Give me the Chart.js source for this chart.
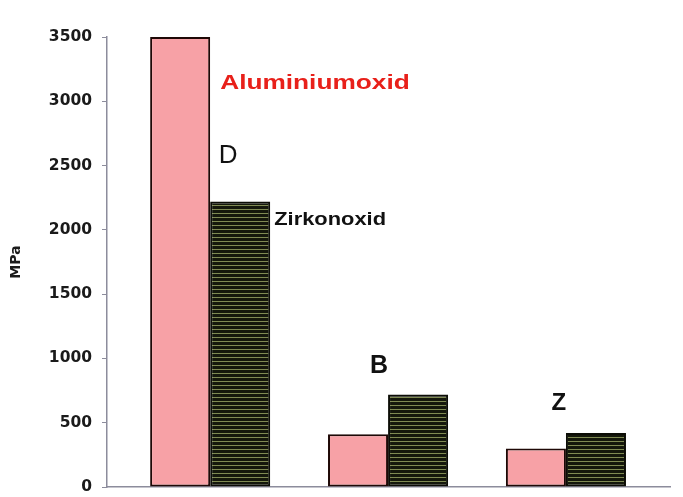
<!DOCTYPE html>
<html>
<head>
<meta charset="utf-8">
<script src="https://cdn.jsdelivr.net/npm/chart.js@4.4.1/dist/chart.umd.min.js"></script>
<style>
  html, body { margin: 0; padding: 0; background: #fff; }
  #wrap { width: 683px; height: 497px; }
</style>
</head>
<body>
<div id="wrap"><canvas id="myChart"></canvas></div>
<script>
// values
const categories = ['D', 'B', 'Z'];
const seriesNames = ['Aluminiumoxid', 'Zirkonoxid'];
const aluminiumoxid = [3500, 410, 300];
const zirkonoxid = [2220, 720, 420];
const yTicks = [0, 500, 1000, 1500, 2000, 2500, 3000, 3500];

// striped fill for the dark bars
function stripePattern() {
  const c = document.createElement('canvas');
  c.width = 4; c.height = 4;
  const g = c.getContext('2d');
  g.fillStyle = '#14170b';
  g.fillRect(0, 0, 4, 4);
  g.fillStyle = '#7f8a52';
  g.fillRect(0, 1, 4, 1);
  return g.createPattern(c, 'repeat');
}

// series names + category letters written next to the bars
const annotations = {
  id: 'annotations',
  afterDatasetsDraw(chart, args, opts) {
    const ctx = chart.ctx;
    const pink = chart.getDatasetMeta(0).data;
    const dark = chart.getDatasetMeta(1).data;
    function txt(s, x, y, font, color, align, stretch) {
      ctx.save();
      ctx.font = font;
      ctx.fillStyle = color;
      ctx.textBaseline = 'middle';
      const w = ctx.measureText(s).width * stretch;
      let left = align === 'center' ? x - w / 2 : x;
      ctx.translate(left, y);
      ctx.scale(stretch, 1);
      ctx.textAlign = 'left';
      ctx.fillText(s, 0, 0);
      ctx.restore();
    }
    // series names beside the first group
    const p0 = pink[0], d0 = dark[0];
    txt(seriesNames[0], p0.x + p0.width / 2 + 10, p0.y + 46,
        'bold 21px "Liberation Sans", Arial, sans-serif', '#e8201a', 'left', 1.25);
    txt(seriesNames[1], d0.x + d0.width / 2 + 4, d0.y + 19,
        'bold 17.5px "Liberation Sans", Arial, sans-serif', '#111', 'left', 1.25);
    // category letters
    opts.letterOffsets.forEach((o, i) => {
      const b = dark[i];
      const cx = (pink[i].x + dark[i].x) / 2;
      txt(categories[i], cx + o[0], b.y + o[1], o[2], '#111', 'center', 1.0);
    });
  }
};

const ctx = document.getElementById('myChart');

new Chart(ctx, {
  type: 'bar',
  data: {
    datasets: [
      {
        label: seriesNames[0],
        data: aluminiumoxid.map((v, i) => ({ x: i, y: v })),
        backgroundColor: '#f7a1a6',
        borderColor: '#1e0806',
        borderWidth: 2,
        borderSkipped: false
      },
      {
        label: seriesNames[1],
        data: zirkonoxid.map((v, i) => ({ x: i, y: v })),
        backgroundColor: stripePattern(),
        borderColor: '#0c0d06',
        borderWidth: 2,
        borderSkipped: false
      }
    ]
  },
  options: {
    responsive: true,
    maintainAspectRatio: false,
    animation: false,
    datasets: {
      bar: { categoryPercentage: 0.675, barPercentage: 1, grouped: true }
    },
    layout: { padding: { left: 0, right: 13, top: 37, bottom: 10 } },
    scales: {
      x: {
        type: 'linear',
        offset: false,
        min: -0.58,
        max: 2.585,
        afterBuildTicks: s => {
          s.ticks = categories.map((c, i) => ({ value: i }));
          s.min = -0.58;
          s.max = 2.585;
        },
        grid: { display: false, offset: false },
        border: { display: true, color: '#8c8c9c', width: 1.5 },
        ticks: { display: false },
        afterFit: s => { s.height = 0; }
      },
      y: {
        min: 0,
        max: 3500,
        afterBuildTicks: s => { s.ticks = yTicks.map(v => ({ value: v })); },
        grid: {
          display: true,
          drawOnChartArea: false,
          drawTicks: true,
          tickLength: 5,
          color: '#8c8c9c'
        },
        border: { display: true, color: '#8c8c9c', width: 1.5 },
        ticks: {
          padding: 10,
          color: '#1a1a1a',
          callback: v => String(v),
          font: { family: '"DejaVu Sans", sans-serif', weight: 'bold', size: 15.5 }
        },
        title: {
          display: true,
          text: 'MPa',
          color: '#1a1a1a',
          padding: { top: 8, bottom: 0 },
          font: { family: '"DejaVu Sans", sans-serif', weight: 'bold', size: 14 }
        },
        afterFit: s => { s.width = 107; s.paddingTop = 0; s.paddingBottom = 0; }
      }
    },
    plugins: {
      legend: { display: false },
      tooltip: { enabled: false },
      annotations: {
        letterOffsets: [
          [18, -46, '26px "Liberation Sans", Arial, sans-serif'],
          [-9, -28, 'bold 25px "Liberation Sans", Arial, sans-serif'],
          [-7, -30, 'bold 24px "Liberation Sans", Arial, sans-serif']
        ]
      }
    }
  },
  plugins: [annotations]
});
</script>
</body>
</html>
